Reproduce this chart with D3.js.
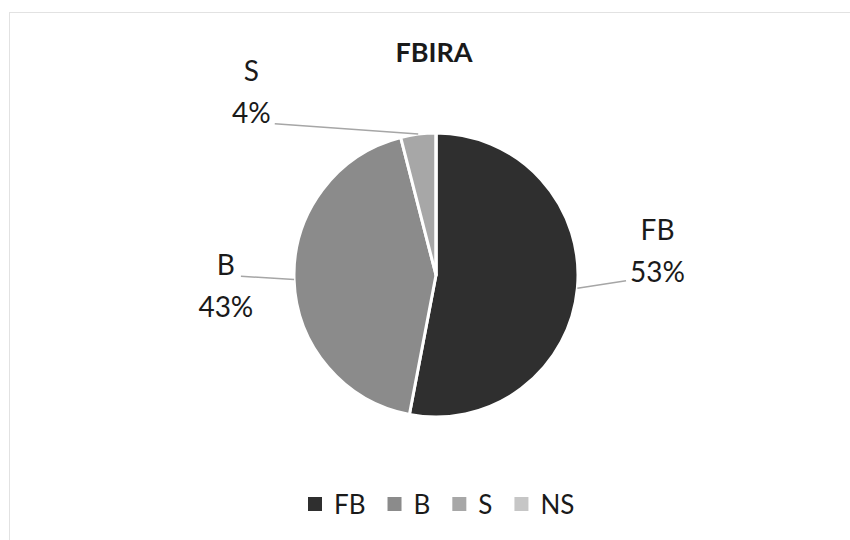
<!DOCTYPE html>
<html>
<head>
<meta charset="utf-8">
<script src="https://cdn.jsdelivr.net/npm/d3@7"></script>
<style>
  body { margin: 0; background: #fff; }
  text { font-family: Lato, "Open Sans", sans-serif; fill: #1a1a1a; }
</style>
</head>
<body>
<svg id="chart" width="850" height="540"></svg>
<script>
const categories = ["FB", "B", "S", "NS"];
const values = [53, 43, 4, 0];
const colors = ["#2f2f2f", "#8b8b8b", "#a7a7a7", "#c6c6c6"];
const title = "FBIRA";

// label spots, in pie radii from the centre (like the hand-moved labels of the source)
const labelSpots = {
    FB: [1.56, -0.10],
    B: [-1.48, 0.15],
    S: [-1.30, -1.22]
};

const svg = d3.select("#chart"),
    width = +svg.attr("width"),
    height = +svg.attr("height");

const cx = 436, cy = 275, radius = 142;

// faint outer frame
svg.append("rect")
    .attr("x", 9.5).attr("y", 12.5)
    .attr("width", width).attr("height", height)
    .attr("fill", "none")
    .attr("stroke", "#e2e2e2");

svg.append("text")
    .attr("x", 434).attr("y", 62)
    .attr("text-anchor", "middle")
    .style("font-weight", "bold")
    .style("font-size", "27px")
    .text(title);

let data = categories.map((c, i) => ({ name: c, value: values[i] }));

let pie = d3.pie().sort(null).value(d => d.value);
let arcs = pie(data);
let arc = d3.arc().innerRadius(0).outerRadius(radius);

let color = d3.scaleOrdinal().domain(categories).range(colors);

let g = svg.append("g").attr("transform", `translate(${cx},${cy})`);

g.selectAll("path")
    .data(arcs)
    .enter()
    .append("path")
    .attr("d", arc)
    .attr("fill", d => color(d.data.name))
    .style("stroke", "#fff")
    .style("stroke-width", 3)
    .style("stroke-linejoin", "round");

// labels with leader lines
let labelled = arcs.filter(d => labelSpots[d.data.name]);
labelled.forEach(function (d) {
    let spot = labelSpots[d.data.name];
    let lx = spot[0] * radius, ly = spot[1] * radius;
    let mid = (d.startAngle + d.endAngle) / 2;
    let ex = Math.sin(mid) * radius, ey = -Math.cos(mid) * radius;

    let lab = g.append("g");
    let nm = lab.append("text")
        .attr("x", lx).attr("y", ly - 21)
        .attr("text-anchor", "middle")
        .style("font-size", "28px")
        .text(d.data.name);
    let pct = lab.append("text")
        .attr("x", lx).attr("y", ly + 21)
        .attr("text-anchor", "middle")
        .style("font-size", "28px")
        .text(Math.round(d.value) + "%");

    let w = pct.node().getComputedTextLength();
    let tx, ty;
    if (d.data.name == "FB") {
        tx = lx - w / 2 - 4; ty = ly + 20;
    } else if (d.data.name == "B") {
        let wb = nm.node().getComputedTextLength();
        tx = lx + wb / 2 + 6; ty = ly - 20;
    } else {
        tx = lx + w / 2 + 4; ty = ly + 22;
    }
    g.append("line")
        .attr("x1", ex).attr("y1", ey)
        .attr("x2", tx).attr("y2", ty)
        .style("stroke", "#a6a6a6")
        .style("stroke-width", 1.5);
});

// legend, laid out one after another from the measured text widths
let legend = svg.append("g").attr("transform", "translate(308,505)");
let item = legend.selectAll("g")
    .data(categories)
    .enter()
    .append("g");

item.append("rect")
    .attr("x", 0).attr("y", -8)
    .attr("width", 14).attr("height", 14)
    .attr("fill", d => color(d));

item.append("text")
    .attr("x", 26).attr("y", 9)
    .style("font-size", "26px")
    .text(d => d);

let xpos = 0;
item.each(function () {
    let it = d3.select(this);
    it.attr("transform", `translate(${xpos},0)`);
    xpos += 26 + it.select("text").node().getComputedTextLength() + 22;
});
</script>
</body>
</html>
